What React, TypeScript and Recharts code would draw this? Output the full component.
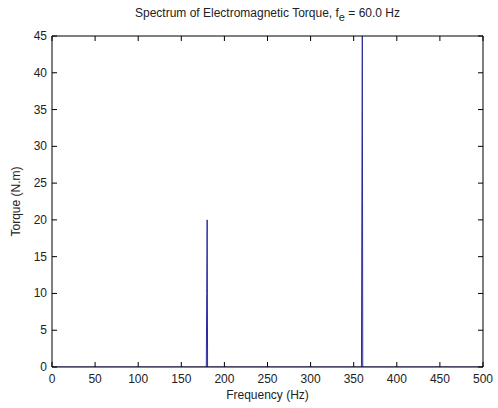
import React from "react";
import { LineChart, Line, XAxis, YAxis } from "recharts";

const frequencies = [0, 179, 179.5, 180, 180.5, 359, 359.5, 360, 360.5, 500];
const torque = [0, 0, 10, 20, 0, 0, 22.5, 45, 0, 0];
const xTicks = [0, 50, 100, 150, 200, 250, 300, 350, 400, 450, 500];
const yTicks = [0, 5, 10, 15, 20, 25, 30, 35, 40, 45];

const data = frequencies.map((f, i) => ({ f, t: torque[i] }));

const FONT = "'Liberation Sans', Arial, sans-serif";
const TXT = "#222";
const LINE = "#2a2a9c";
const TL = 5;

const BottomTick = (p: any) => (
  <g>
    <line x1={p.x} y1={p.y} x2={p.x} y2={p.y - TL} stroke="#000" />
    <text x={p.x} y={p.y + 16} textAnchor="middle" fontSize={12} fontFamily={FONT} fill={TXT}>
      {p.payload.value}
    </text>
  </g>
);
const TopTick = (p: any) => (
  <line x1={p.x} y1={p.y} x2={p.x} y2={p.y + TL} stroke="#000" />
);
const LeftTick = (p: any) => (
  <g>
    <line x1={p.x} y1={p.y} x2={p.x + TL} y2={p.y} stroke="#000" />
    <text x={p.x - 5} y={p.y + 4} textAnchor="end" fontSize={12} fontFamily={FONT} fill={TXT}>
      {p.payload.value}
    </text>
  </g>
);
const RightTick = (p: any) => (
  <line x1={p.x} y1={p.y} x2={p.x - TL} y2={p.y} stroke="#000" />
);

export default function App() {
  return (
    <div style={{ position: "absolute", left: 0, top: 0, width: 498, height: 408, background: "#fff" }}>
      <div
        style={{
          position: "absolute",
          left: 52,
          width: 431,
          top: 6,
          textAlign: "center",
          fontFamily: FONT,
          fontSize: 12,
          color: TXT,
          lineHeight: "14px",
        }}
      >
        Spectrum of Electromagnetic Torque, f<sub style={{ fontSize: 11, verticalAlign: "-4px", lineHeight: 0 }}>e</sub> = 60.0 Hz
      </div>
      <LineChart width={498} height={408} data={data} margin={{ top: 35, right: 14, left: 0, bottom: 0 }}>
        <XAxis
          dataKey="f"
          type="number"
          domain={[0, 500]}
          ticks={xTicks}
          height={41}
          tickSize={0}
          tickMargin={0}
          tick={<BottomTick />}
          tickLine={false}
          axisLine={{ stroke: "#000" }}
          interval={0}
          allowDataOverflow
          label={{
            content: (lp: any) => {
              const vb = lp.viewBox;
              return (
                <text
                  x={vb.x + vb.width / 2}
                  y={vb.y + 32}
                  textAnchor="middle"
                  fontSize={12}
                  fontFamily={FONT}
                  fill={TXT}
                >
                  Frequency (Hz)
                </text>
              );
            },
          }}
        />
        <XAxis
          xAxisId="top"
          dataKey="f"
          orientation="top"
          type="number"
          domain={[0, 500]}
          ticks={xTicks}
          height={1}
          tickSize={0}
          tickMargin={0}
          tick={<TopTick />}
          tickLine={false}
          axisLine={{ stroke: "#000" }}
          interval={0}
          allowDataOverflow
        />
        <YAxis
          type="number"
          domain={[0, 45]}
          ticks={yTicks}
          width={52}
          tickSize={0}
          tickMargin={0}
          tick={<LeftTick />}
          tickLine={false}
          axisLine={{ stroke: "#000" }}
          interval={0}
          allowDataOverflow
          label={{
            content: (lp: any) => {
              const vb = lp.viewBox;
              const cx = 20;
              const cy = vb.y + vb.height / 2;
              return (
                <text
                  x={cx}
                  y={cy}
                  transform={`rotate(-90 ${cx} ${cy})`}
                  textAnchor="middle"
                  fontSize={12}
                  fontFamily={FONT}
                  fill={TXT}
                >
                  Torque (N.m)
                </text>
              );
            },
          }}
        />
        <YAxis
          yAxisId="right"
          orientation="right"
          type="number"
          domain={[0, 45]}
          ticks={yTicks}
          width={1}
          tickSize={0}
          tickMargin={0}
          tick={<RightTick />}
          tickLine={false}
          axisLine={{ stroke: "#000" }}
          interval={0}
          allowDataOverflow
        />
        <Line
          xAxisId="top"
          yAxisId="right"
          type="linear"
          dataKey="t"
          stroke="none"
          dot={false}
          activeDot={false}
          isAnimationActive={false}
        />
        <Line
          type="linear"
          dataKey="t"
          stroke={LINE}
          strokeWidth={1}
          dot={false}
          isAnimationActive={false}
        />
      </LineChart>
    </div>
  );
}
